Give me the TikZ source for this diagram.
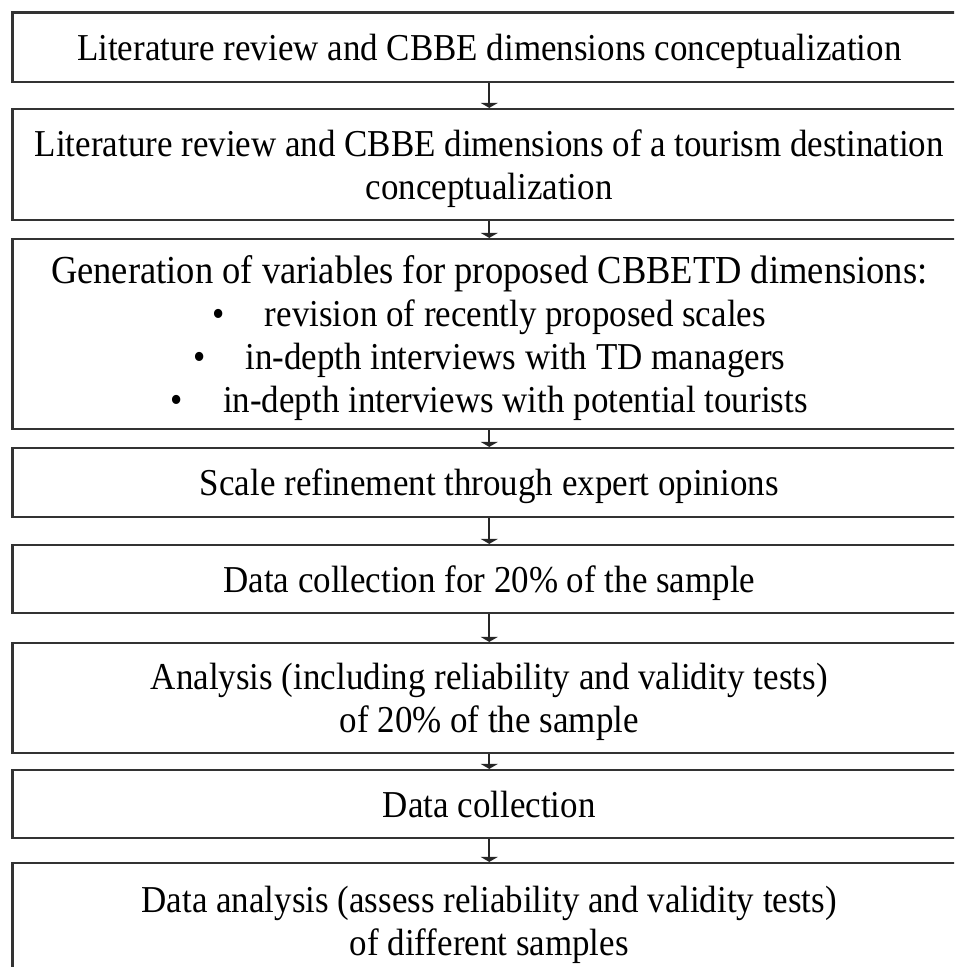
\documentclass[tikz,border=0pt]{standalone}
\usepackage{fontspec}
\setmainfont[FakeStretch=0.92]{Liberation Serif}
\usetikzlibrary{arrows.meta}
\begin{document}
\begin{tikzpicture}[x=1pt,y=-1pt,
  stage/.style={draw=black!80, line width=2.2pt, minimum width=953.5pt,
    inner sep=0pt, align=center, text=black, text depth=0pt,
    font=\fontsize{38}{43}\selectfont},
  flow/.style={draw=black!85, line width=2.2pt,
    -{Triangle[length=5pt,width=17pt]}}]
\useasboundingbox (0,0) rectangle (954,967);
\clip (0,0) rectangle (954,967);

\node[stage, minimum height=69.5pt] (b1) at (489.25,47.25)
  {Literature review and CBBE dimensions conceptualization};
\node[stage, minimum height=111pt] (b2) at (489.25,164.5)
  {Literature review and CBBE dimensions of a tourism destination\\
   conceptualization};
\node[stage, minimum height=190pt] (b3) at (489.25,334)
  {{\fontsize{39.7}{43}\selectfont Generation of variables for proposed CBBETD dimensions:}\\
   \textbullet\hspace{40pt}revision of recently proposed scales\\
   \textbullet\hspace{40pt}in-depth interviews with TD managers\\
   \textbullet\hspace{40pt}in-depth interviews with potential tourists};
\node[stage, minimum height=69pt] (b4) at (489.25,482.5)
  {Scale refinement through expert opinions};
\node[stage, minimum height=68pt] (b5) at (489.25,579)
  {Data collection for 20\% of the sample};
\node[stage, minimum height=110pt] (b6) at (489.25,698)
  {Analysis (including reliability and validity tests)\\
   of 20\% of the sample};
\node[stage, minimum height=68pt] (b7) at (489.25,804)
  {Data collection};
\node[stage, minimum height=116pt] (b8) at (489.25,921)
  {Data analysis (assess reliability and validity tests)\\
   of different samples};

\foreach \a/\b in {b1/b2,b2/b3,b3/b4,b4/b5,b5/b6,b6/b7,b7/b8}
  \draw[flow] (\a.south) -- (\b.north);
\end{tikzpicture}
\end{document}
